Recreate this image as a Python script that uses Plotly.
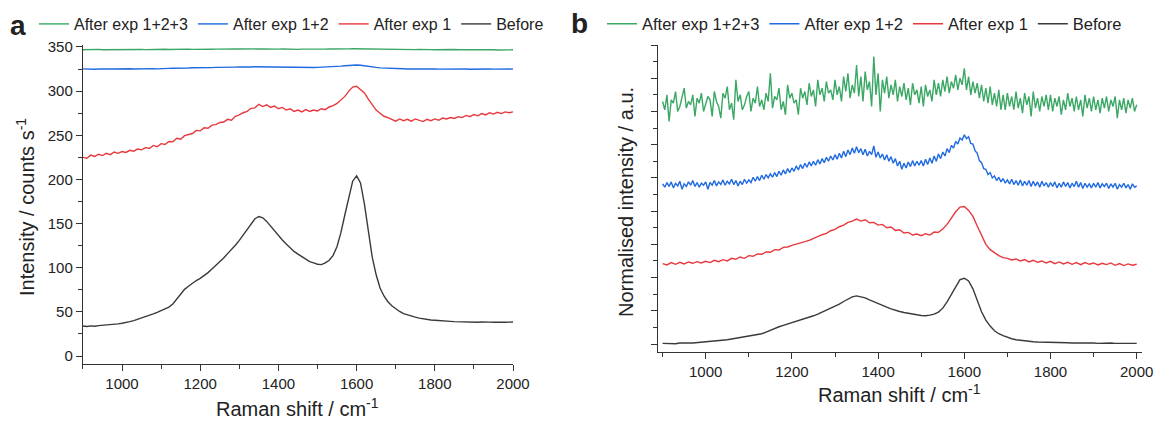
import plotly.graph_objects as go

# ---------------- data ----------------
wavenumber = list(range(900, 2001, 10))        # Raman shift / cm-1 (coarse sampling)
wavenumber_fine = list(range(900, 2001, 5))    # finer sampling for the noisiest traces

series_names = ["After exp 1+2+3", "After exp 1+2", "After exp 1", "Before"]
series_colors = ["#3aa864", "#1f6ae0", "#e8383d", "#3a3a3a"]

# panel a : intensity / counts s-1   (sampled every 10 cm-1)
a_exp123 = [346.9, 347.1, 346.8, 347.0, 347.2, 346.9, 347.0, 346.8, 347.1, 347.0,
            347.2, 346.9, 347.1, 347.0, 347.3, 347.1, 347.0, 347.2, 347.1, 347.3,
            347.2, 347.4, 347.1, 347.3, 347.2, 347.4, 347.3, 347.5, 347.2, 347.4,
            347.5, 347.3, 347.6, 347.4, 347.5, 347.7, 347.4, 347.6, 347.5, 347.7,
            347.6, 347.8, 347.5, 347.7, 347.6, 347.8, 347.7, 347.5, 347.7, 347.6,
            347.5, 347.7, 347.4, 347.6, 347.5, 347.3, 347.5, 347.4, 347.6, 347.5,
            347.4, 347.6, 347.5, 347.7, 347.6, 347.8, 347.7, 347.9, 347.8, 348.0,
            347.9, 347.7, 347.8, 347.5, 347.6, 347.4, 347.3, 347.5, 347.2, 347.3,
            347.1, 347.3, 347.0, 347.2, 347.1, 347.0, 347.2, 346.9, 347.1, 347.0,
            346.9, 347.1, 346.8, 347.0, 346.9, 347.1, 346.8, 347.0, 346.9, 346.7,
            346.9, 346.8, 347.0, 346.7, 346.9, 346.8, 346.6, 346.9, 346.8, 346.7,
            346.8]
a_exp12 = [325.2, 324.9, 325.1, 324.8, 325.0, 325.3, 324.9, 325.1, 325.0, 325.2,
           325.1, 324.9, 325.3, 325.0, 325.2, 325.4, 325.1, 325.3, 325.5, 325.2,
           325.6, 325.4, 325.7, 325.9, 325.8, 326.0, 326.2, 326.1, 326.4, 326.3,
           326.5, 326.4, 326.7, 326.6, 326.9, 326.8, 327.0, 327.1, 326.9, 327.2,
           327.3, 327.1, 327.4, 327.3, 327.5, 327.4, 327.3, 327.5, 327.2, 327.0,
           327.1, 326.8, 326.9, 326.6, 326.8, 326.5, 326.7, 326.6, 326.8, 326.7,
           326.9, 327.0, 327.2, 327.4, 327.6, 327.9, 328.3, 328.7, 329.1, 329.4,
           329.5, 329.2, 328.8, 328.1, 327.4, 326.8, 326.3, 326.0, 325.7, 325.5,
           325.4, 325.2, 325.3, 325.1, 325.2, 325.0, 325.1, 324.9, 325.1, 325.0,
           325.2, 324.9, 325.0, 325.1, 324.8, 325.0, 325.1, 324.9, 325.0, 324.8,
           325.0, 324.9, 325.1, 324.8, 325.0, 324.9, 325.1, 324.8, 324.9, 325.0,
           324.9]
a_exp1 = [225.0, 224.0, 227.5, 226.0, 228.5, 227.0, 229.5, 228.0, 231.0, 229.5,
          231.5, 230.5, 233.0, 232.0, 234.5, 233.5, 236.0, 235.0, 238.5, 237.0,
          240.5, 239.5, 243.0, 242.5, 246.5, 245.5, 249.5, 250.5, 252.0, 255.5,
          255.0, 258.5, 258.0, 261.5, 262.0, 264.5, 265.0, 268.0, 267.0, 271.5,
          273.0, 275.5, 277.0, 280.5, 281.0, 285.0, 282.5, 284.5, 281.5, 283.0,
          280.0, 281.5, 278.5, 280.0, 277.0, 278.5, 276.5, 279.0, 277.0, 278.5,
          277.5, 280.0, 279.0, 282.0, 283.5, 286.0, 289.5, 294.0, 300.0, 304.5,
          305.5, 302.0, 298.0, 291.0, 284.0, 278.5, 275.0, 271.5, 270.0, 268.0,
          266.0, 268.5, 266.5, 268.0, 266.0, 268.5, 267.0, 265.5, 268.0, 266.5,
          268.5, 267.0, 269.5, 268.5, 270.0, 269.0, 271.0, 270.0, 272.5, 271.0,
          273.5, 272.0, 274.5, 273.0, 275.5, 274.0, 276.0, 274.5, 276.5, 275.5,
          276.5]
a_before = [34.0, 33.5, 34.2, 33.8, 34.5, 34.8, 35.2, 35.0, 35.8, 36.4,
            37.2, 37.8, 39.0, 40.1, 41.5, 43.0, 44.6, 46.0, 47.8, 49.5,
            51.2, 53.0, 55.5, 59.0, 64.5, 70.5, 75.5, 79.0, 82.5, 85.5,
            88.0, 91.0, 94.5, 98.5, 102.5, 106.5, 111.0, 116.0, 120.5, 125.5,
            131.0, 137.0, 143.5, 150.0, 155.5, 158.0, 156.5, 152.5, 147.0, 141.5,
            136.5, 131.5, 127.0, 122.5, 118.5, 115.5, 112.5, 109.5, 107.0, 105.5,
            104.0, 103.5, 105.5, 108.5, 114.0, 124.0, 140.0, 160.0, 180.0, 198.0,
            204.0, 196.0, 172.0, 140.0, 112.0, 92.0, 77.0, 68.0, 61.5, 57.0,
            53.5, 50.5, 48.0, 46.5, 45.0, 44.0, 43.0, 42.0, 41.5, 40.8,
            40.5, 40.0, 39.8, 39.6, 39.3, 39.0, 38.8, 38.9, 38.6, 38.4,
            38.5, 38.3, 38.6, 38.2, 38.4, 38.3, 38.0, 38.5, 38.2, 38.4,
            38.6]

# panel b : normalised intensity (stacked, a.u.)
# green and blue sampled every 5 cm-1, red and black every 10 cm-1
b_exp123 = [7.30, 7.05, 7.50, 6.70, 7.35, 7.25, 7.60, 7.00, 7.15, 7.45, 7.70, 7.10, 7.30, 7.20, 7.50, 6.85, 7.40, 7.25, 7.55, 7.00,
            7.20, 7.45, 7.35, 6.85, 7.60, 7.30, 7.15, 6.80, 7.55, 7.40, 7.75, 7.05, 7.25, 6.75, 7.95, 7.30, 7.50, 7.05, 7.20, 7.45,
            7.60, 7.00, 7.40, 7.25, 7.75, 7.15, 7.35, 7.05, 7.55, 7.30, 8.15, 7.10, 7.45, 7.35, 7.70, 7.05, 7.30, 6.90, 7.80, 7.40,
            7.55, 7.25, 7.35, 6.90, 7.70, 7.40, 7.60, 7.20, 7.85, 7.45, 7.65, 7.15, 7.95, 7.50, 7.70, 7.30, 7.90, 7.55, 7.65, 7.35,
            7.95, 7.50, 7.75, 7.30, 8.05, 7.60, 8.15, 7.40, 7.80, 7.55, 8.40, 7.45, 8.05, 7.30, 8.20, 7.65, 7.90, 7.15, 8.65, 7.50,
            8.15, 7.00, 7.95, 7.55, 8.05, 7.40, 7.80, 7.50, 7.95, 7.30, 7.75, 7.45, 7.85, 7.35, 7.70, 7.20, 7.85, 7.50, 7.65, 7.25,
            7.75, 7.15, 7.80, 7.45, 7.65, 7.30, 7.95, 7.50, 7.85, 7.45, 7.95, 7.60, 8.05, 7.55, 7.90, 7.70, 8.10, 7.65, 8.00, 7.80,
            8.30, 7.65, 8.05, 7.50, 7.90, 7.55, 7.85, 7.40, 7.80, 7.30, 7.70, 7.25, 7.75, 7.20, 7.55, 7.15, 7.65, 7.05, 7.50, 7.05,
            7.55, 7.15, 7.45, 7.05, 7.60, 7.10, 7.40, 6.95, 7.55, 7.20, 7.45, 6.85, 7.60, 7.10, 7.40, 7.00, 7.45, 7.15, 7.50, 7.05,
            7.50, 7.00, 7.40, 7.15, 7.45, 6.90, 7.35, 7.05, 7.55, 7.15, 7.40, 7.00, 7.45, 7.05, 7.35, 6.85, 7.50, 7.10, 7.40, 7.00,
            7.45, 7.05, 7.35, 6.95, 7.40, 7.10, 7.45, 7.00, 7.35, 7.15, 7.45, 6.80, 7.35, 7.05, 7.40, 6.95, 7.35, 7.10, 7.40, 7.00,
            7.20]
b_exp12 = [4.82, 4.72, 4.86, 4.74, 4.88, 4.70, 4.84, 4.76, 4.90, 4.66, 4.82, 4.74, 4.88, 4.78, 4.92, 4.74, 4.86, 4.72, 4.84, 4.78,
           4.88, 4.66, 4.86, 4.78, 4.92, 4.76, 4.88, 4.80, 4.94, 4.78, 4.90, 4.82, 4.96, 4.80, 4.92, 4.76, 4.90, 4.80, 4.96, 4.84,
           4.94, 4.86, 5.02, 4.90, 5.04, 4.92, 5.08, 4.96, 5.10, 5.00, 5.12, 5.02, 5.16, 5.04, 5.20, 5.08, 5.24, 5.12, 5.28, 5.16,
           5.30, 5.20, 5.36, 5.24, 5.40, 5.28, 5.44, 5.32, 5.48, 5.36, 5.50, 5.38, 5.55, 5.42, 5.58, 5.46, 5.62, 5.50, 5.66, 5.54,
           5.70, 5.56, 5.74, 5.60, 5.80, 5.64, 5.84, 5.70, 5.90, 5.74, 5.94, 5.76, 5.88, 5.70, 5.86, 5.66, 5.80, 5.70, 5.96, 5.62,
           5.78, 5.60, 5.72, 5.54, 5.70, 5.50, 5.64, 5.44, 5.58, 5.36, 5.50, 5.26, 5.44, 5.30, 5.48, 5.34, 5.52, 5.36, 5.50, 5.38,
           5.52, 5.36, 5.56, 5.40, 5.60, 5.44, 5.66, 5.50, 5.72, 5.58, 5.78, 5.66, 5.88, 5.76, 5.98, 5.90, 6.10, 6.02, 6.20, 6.14,
           6.30, 6.18, 6.24, 6.04, 6.02, 5.82, 5.74, 5.52, 5.46, 5.28, 5.26, 5.10, 5.16, 5.00, 5.06, 4.92, 5.02, 4.88, 4.98, 4.84,
           4.94, 4.82, 4.96, 4.80, 4.92, 4.78, 4.94, 4.76, 4.90, 4.78, 4.92, 4.74, 4.90, 4.76, 4.88, 4.72, 4.90, 4.76, 4.86, 4.72,
           4.86, 4.74, 4.88, 4.70, 4.84, 4.72, 4.88, 4.74, 4.86, 4.70, 4.84, 4.74, 4.90, 4.72, 4.86, 4.68, 4.84, 4.72, 4.82, 4.70,
           4.84, 4.72, 4.86, 4.70, 4.82, 4.74, 4.84, 4.68, 4.82, 4.72, 4.84, 4.66, 4.80, 4.72, 4.84, 4.70, 4.80, 4.66, 4.82, 4.72,
           4.76]
b_exp1 = [2.42, 2.38, 2.45, 2.40, 2.46, 2.41, 2.47, 2.43, 2.48, 2.44,
          2.49, 2.45, 2.52, 2.48, 2.54, 2.50, 2.58, 2.55, 2.62, 2.58,
          2.66, 2.64, 2.71, 2.70, 2.77, 2.76, 2.84, 2.83, 2.91, 2.92,
          2.97, 3.00, 3.04, 3.08, 3.12, 3.18, 3.22, 3.29, 3.33, 3.41,
          3.45, 3.53, 3.58, 3.66, 3.70, 3.76, 3.70, 3.74, 3.65, 3.66,
          3.58, 3.60, 3.50, 3.52, 3.42, 3.44, 3.34, 3.36, 3.28, 3.31,
          3.26, 3.32, 3.28, 3.37, 3.36, 3.46, 3.60, 3.78, 3.98, 4.12,
          4.14, 4.02, 3.84, 3.55, 3.25, 3.00, 2.84, 2.74, 2.66, 2.60,
          2.58, 2.53, 2.56, 2.50, 2.54, 2.47, 2.52, 2.46, 2.50, 2.44,
          2.49, 2.42, 2.47, 2.41, 2.46, 2.40, 2.45, 2.39, 2.45, 2.40,
          2.44, 2.38, 2.43, 2.39, 2.44, 2.37, 2.42, 2.36, 2.41, 2.37,
          2.40]
b_before = [0.02, 0.01, 0.02, 0.01, 0.03, 0.02, 0.03, 0.03, 0.04, 0.05,
            0.06, 0.07, 0.08, 0.10, 0.11, 0.13, 0.15, 0.17, 0.19, 0.21,
            0.23, 0.25, 0.28, 0.31, 0.36, 0.42, 0.47, 0.52, 0.56, 0.60,
            0.64, 0.67, 0.71, 0.76, 0.80, 0.85, 0.90, 0.96, 1.01, 1.07,
            1.13, 1.20, 1.28, 1.36, 1.42, 1.45, 1.43, 1.39, 1.33, 1.27,
            1.21, 1.16, 1.11, 1.06, 1.01, 0.98, 0.95, 0.92, 0.89, 0.88,
            0.86, 0.85, 0.87, 0.90, 0.96, 1.08, 1.27, 1.50, 1.74, 1.94,
            1.98, 1.90, 1.66, 1.30, 0.97, 0.72, 0.54, 0.40, 0.31, 0.25,
            0.20, 0.16, 0.13, 0.11, 0.10, 0.08, 0.07, 0.06, 0.06, 0.05,
            0.05, 0.04, 0.05, 0.04, 0.04, 0.03, 0.04, 0.03, 0.03, 0.04,
            0.03, 0.02, 0.03, 0.02, 0.03, 0.02, 0.03, 0.02, 0.02, 0.03,
            0.02]

panel_a = [(wavenumber, a_exp123), (wavenumber, a_exp12), (wavenumber, a_exp1), (wavenumber, a_before)]
panel_b = [(wavenumber_fine, b_exp123), (wavenumber_fine, b_exp12), (wavenumber, b_exp1), (wavenumber, b_before)]

# ---------------- figure ----------------
W, H = 1156, 424
FONT = "Liberation Sans, Arial, Helvetica, sans-serif"
INK = "#222222"
AX = "#333333"

fig = go.Figure()
for name, col, (xs, ys) in zip(series_names, series_colors, panel_a):
    fig.add_trace(go.Scatter(x=xs, y=ys, mode="lines", name=name,
                             line=dict(color=col, width=1.4),
                             xaxis="x", yaxis="y", legend="legend"))
for name, col, (xs, ys) in zip(series_names, series_colors, panel_b):
    fig.add_trace(go.Scatter(x=xs, y=ys, mode="lines", name=name,
                             line=dict(color=col, width=1.4),
                             xaxis="x2", yaxis="y2", legend="legend2"))

def px(v):
    return v / W

def py(v):
    return 1 - v / H

axis_common = dict(showline=True, linecolor=AX, linewidth=1.3, ticks="outside",
                   ticklen=6, tickwidth=1.2, tickcolor=AX, showgrid=False,
                   zeroline=False, tickfont=dict(family=FONT, size=15, color=INK))

fig.update_layout(
    width=W, height=H, margin=dict(l=0, r=0, t=0, b=0, autoexpand=False),
    paper_bgcolor="white", plot_bgcolor="white",
    font=dict(family=FONT, color=INK),
    xaxis=dict(domain=[px(82.9), px(513)], range=[900, 2000], anchor="y",
               dtick=200, tick0=1000,
               minor=dict(dtick=100, ticks="outside", ticklen=3.5, tickcolor=AX),
               **axis_common),
    yaxis=dict(domain=[1 - 364 / H, 1 - 45 / H], range=[-9, 352.2], anchor="x",
               dtick=50, tick0=0,
               minor=dict(dtick=25, ticks="outside", ticklen=3.5, tickcolor=AX),
               **axis_common),
    xaxis2=dict(domain=[px(658), px(1141.7)], range=[889.3, 2011.6], anchor="y2",
                dtick=200, tick0=1000,
                minor=dict(dtick=100, ticks="outside", ticklen=3.5, tickcolor=AX),
                **axis_common),
    yaxis2=dict(domain=[1 - 352 / H, 1 - 45 / H], range=[-0.24, 9.0], anchor="x2",
                dtick=1, tick0=0, showticklabels=False,
                minor=dict(dtick=0.5, ticks="outside", ticklen=3.5, tickcolor=AX),
                **axis_common),
    legend=dict(orientation="h", x=px(34), y=py(24), xanchor="left", yanchor="middle",
                font=dict(family=FONT, size=16, color=INK), bgcolor="rgba(0,0,0,0)",
                traceorder="normal"),
    legend2=dict(orientation="h", x=px(602), y=py(24), xanchor="left", yanchor="middle",
                 font=dict(family=FONT, size=16.5, color=INK), bgcolor="rgba(0,0,0,0)",
                 traceorder="normal"),
    showlegend=True,
)

ann = [
    dict(text="<b>a</b>", x=px(18), y=py(25), font=dict(size=28)),
    dict(text="<b>b</b>", x=px(579), y=py(24), font=dict(size=28)),
    dict(text="Raman shift / cm<sup>-1</sup>", x=px(297), y=py(407), font=dict(size=20)),
    dict(text="Raman shift / cm<sup>-1</sup>", x=px(899), y=py(393), font=dict(size=20)),
    dict(text="Intensity / counts s<sup>-1</sup>", x=px(25), y=py(207), font=dict(size=20),
         textangle=-90),
    dict(text="Normalised intensity / a.u.", x=px(626), y=py(202), font=dict(size=20),
         textangle=-90),
]
for a in ann:
    f = a.pop("font")
    fig.add_annotation(xref="paper", yref="paper", showarrow=False,
                       xanchor="center", yanchor="middle",
                       font=dict(family=FONT, color=INK, **f), **a)

fig.write_html("out.html")
